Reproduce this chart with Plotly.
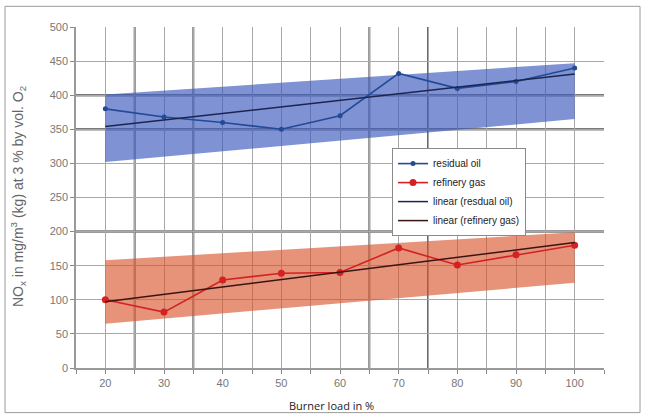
import plotly.graph_objects as go

# ---- data ----
burner_load = [20, 30, 40, 50, 60, 70, 80, 90, 100]
residual_oil = [380, 368, 360, 350, 370, 432, 410, 420, 440]
refinery_gas = [100, 82, 129, 139, 140, 176, 151, 166, 180]

trend_x = [20, 100]
trend_oil = [354, 431]
trend_gas = [97, 184]

band_x = [20, 100]
oil_band_upper = [401, 447]
oil_band_lower = [302, 365]
gas_band_upper = [158, 199]
gas_band_lower = [65, 125]

x_tick_labels = ["20", "30", "40", "50", "60", "70", "80", "90", "100"]
dark_grid_y = [200, 350, 400]
dark_grid_x = [25, 35, 65, 75]

TICK_FONT = dict(family="Liberation Sans, Arial, sans-serif", size=11, color="#777777")

fig = go.Figure()

# bands
fig.add_trace(go.Scatter(
    x=band_x + band_x[::-1], y=oil_band_lower + oil_band_upper[::-1],
    fill="toself", fillcolor="rgba(60,90,190,0.66)", line=dict(width=0),
    mode="lines", showlegend=False, hoverinfo="skip"))
fig.add_trace(go.Scatter(
    x=band_x + band_x[::-1], y=gas_band_lower + gas_band_upper[::-1],
    fill="toself", fillcolor="rgba(215,80,40,0.62)", line=dict(width=0),
    mode="lines", showlegend=False, hoverinfo="skip"))

# series
fig.add_trace(go.Scatter(
    x=burner_load, y=residual_oil, name="residual oil", mode="lines+markers",
    line=dict(color="#234a96", width=1.6), marker=dict(size=5, color="#234a96")))
fig.add_trace(go.Scatter(
    x=burner_load, y=refinery_gas, name="refinery gas", mode="lines+markers",
    line=dict(color="#d42222", width=1.6), marker=dict(size=7, color="#d42222")))
fig.add_trace(go.Scatter(
    x=trend_x, y=trend_oil, name="linear (resdual oil)", mode="lines",
    line=dict(color="#1c2550", width=1.5)))
fig.add_trace(go.Scatter(
    x=trend_x, y=trend_gas, name="linear (refinery gas)", mode="lines",
    line=dict(color="#3a1414", width=1.5)))

shapes = []
for yv in dark_grid_y:
    shapes.append(dict(type="line", xref="paper", yref="y", x0=0, x1=1, y0=yv, y1=yv,
                       line=dict(color="#7a7a7a", width=2.5), layer="below"))
for xv in dark_grid_x:
    shapes.append(dict(type="line", xref="x", yref="paper", x0=xv, x1=xv, y0=0, y1=1,
                       line=dict(color="#6a6a6a", width=2), layer="below"))
# outer frame
shapes.append(dict(type="rect", xref="paper", yref="paper",
                   x0=(5 - 76) / 528, x1=(640 - 76) / 528,
                   y0=(368.3 - 413) / 341.6, y1=(368.3 - 6) / 341.6,
                   line=dict(color="#9a9a9a", width=1), layer="below"))

fig.update_layout(
    width=646, height=419,
    margin=dict(l=76, r=42, t=27, b=51),
    paper_bgcolor="white", plot_bgcolor="white",
    shapes=shapes,
    showlegend=True,
    legend=dict(x=(392 - 76) / 528, y=(368.3 - 148) / 341.6, xanchor="left", yanchor="top",
                bgcolor="white", bordercolor="#8a8a8a", borderwidth=1,
                font=dict(family="Liberation Sans, Arial, sans-serif", size=10, color="#222222"),
                itemwidth=30, tracegroupgap=0),
    annotations=[
        dict(text="Burner load in %", xref="paper", yref="paper",
             x=(331 - 76) / 528, y=(368.3 - 406) / 341.6, showarrow=False,
             xanchor="center", yanchor="middle",
             font=dict(family="Open Sans, sans-serif", size=11, color="#222222")),
        dict(text="NO<sub>x</sub> in mg/m<sup>3</sup> (kg) at 3 % by vol. O<sub>2</sub>",
             xref="paper", yref="paper", x=(18 - 76) / 528, y=(368.3 - 197) / 341.6,
             textangle=-90, showarrow=False, xanchor="center", yanchor="middle",
             font=dict(family="Liberation Sans, Arial, sans-serif", size=14, color="#666666")),
    ],
)

fig.update_xaxes(
    range=[15, 105], tickmode="array", tickvals=burner_load, ticktext=x_tick_labels,
    showgrid=True, gridcolor="#a8a8a8", gridwidth=1,
    ticks="outside", ticklen=4, tickcolor="#888888",
    minor=dict(tickmode="linear", tick0=15, dtick=5, showgrid=True, gridcolor="#a8a8a8",
               gridwidth=1, ticks="outside", ticklen=4, tickcolor="#888888"),
    showline=True, linecolor="#999999", linewidth=2, zeroline=False,
    tickfont=TICK_FONT, fixedrange=True)

fig.update_yaxes(
    range=[0, 500], dtick=50, tick0=0,
    showgrid=True, gridcolor="#a8a8a8", gridwidth=1,
    ticks="outside", ticklen=4, tickcolor="#888888",
    showline=True, linecolor="#999999", linewidth=1.5, zeroline=False,
    tickfont=TICK_FONT, fixedrange=True)

fig.write_html("out.html", config={"displayModeBar": False},
               post_script="document.body.style.margin='0';")
